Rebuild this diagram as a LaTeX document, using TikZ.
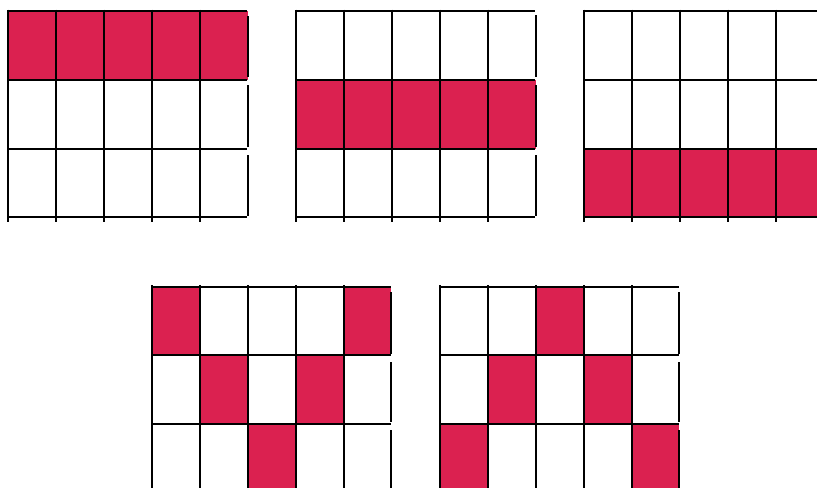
\documentclass[tikz,border=0pt]{standalone}
\definecolor{cellred}{RGB}{219,33,80}
\tikzset{
  gl/.style={line width=2.2pt, black},
  cell/.style={fill=cellred}
}
\begin{document}
\begin{tikzpicture}[x=1pt,y=-1pt]
\useasboundingbox (0,0) rectangle (817,488);
\fill[white] (0,0) rectangle (817,488);
% ---------- grid 1 (top row filled)
\fill[cell] (8,10.7) rectangle (248,80);
\foreach \y in {10.7,80,148.7,217.3} \draw[gl] (8,\y) -- (247,\y);
\foreach \x in {8,56,104,152,200} \draw[gl] (\x,9.5) -- (\x,222);
\foreach \a/\b in {16/77,85/147,155/216} \draw[gl] (248,\a) -- (248,\b);
% ---------- grid 2 (middle row filled)
\fill[cell] (296,80) rectangle (535.7,148.7);
\foreach \y in {10.7,80,148.7,217.3} \draw[gl] (296,\y) -- (535,\y);
\foreach \x in {296,344,392,440,488} \draw[gl] (\x,9.5) -- (\x,222);
\foreach \a/\b in {15/77,85/147,155/216} \draw[gl] (535.7,\a) -- (535.7,\b);
% ---------- grid 3 (bottom row filled)
\fill[cell] (584,148.7) rectangle (817,217.3);
\foreach \y in {10.7,80,148.7,217.3} \draw[gl] (584,\y) -- (817,\y);
\foreach \x in {584,632,680,728,776} \draw[gl] (\x,9.5) -- (\x,222);
% ---------- grid 4 (V shape)
\fill[cell] (152,286.7) rectangle (200,354.7);
\fill[cell] (344,286.7) rectangle (391.3,354.7);
\fill[cell] (200,354.7) rectangle (248,424);
\fill[cell] (296,354.7) rectangle (344,424);
\fill[cell] (248,424) rectangle (296,488);
\foreach \y in {286.7,354.7,424} \draw[gl] (152,\y) -- (391,\y);
\foreach \x in {152,200,248,296,344} \draw[gl] (\x,285) -- (\x,488);
\foreach \a/\b in {292/354,362/422,430/488} \draw[gl] (391.3,\a) -- (391.3,\b);
% ---------- grid 5 (inverted V)
\fill[cell] (536,286.7) rectangle (584,354.7);
\fill[cell] (488,354.7) rectangle (536,424);
\fill[cell] (584,354.7) rectangle (632,424);
\fill[cell] (440,424) rectangle (488,488);
\fill[cell] (632,424) rectangle (679.3,488);
\foreach \y in {286.7,354.7,424} \draw[gl] (440,\y) -- (679,\y);
\foreach \x in {440,488,536,584,632} \draw[gl] (\x,285) -- (\x,488);
\foreach \a/\b in {292/354,362/422,430/488} \draw[gl] (679.3,\a) -- (679.3,\b);
\end{tikzpicture}
\end{document}
